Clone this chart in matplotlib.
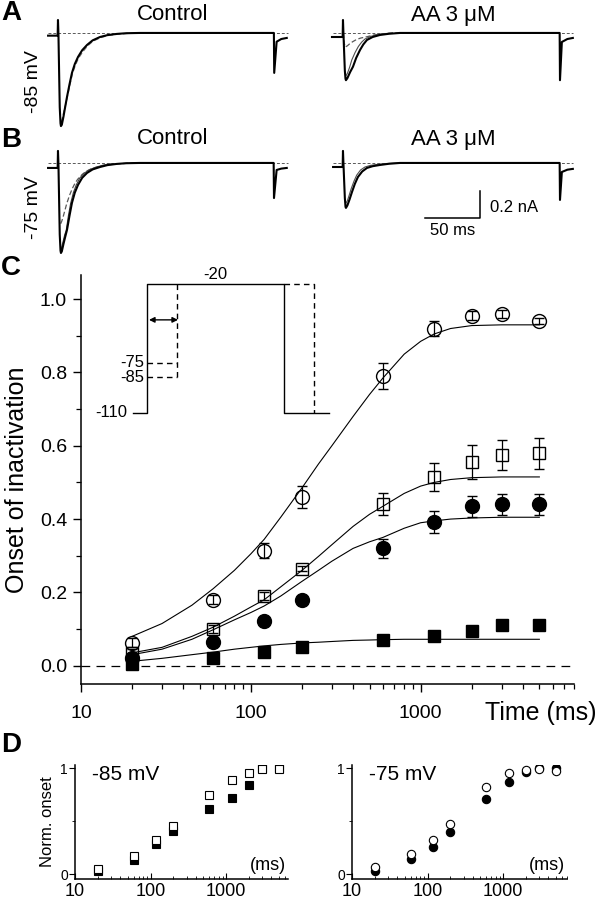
import numpy as np
import matplotlib.pyplot as plt
from matplotlib.ticker import NullFormatter

plt.rcParams['font.family'] = ['Liberation Sans', 'DejaVu Sans']

W, H = 602, 899

# ---- panel A / B current traces (ms, nA) ----
a_ctl_t = [-9, -0.3, 0, 0.4, 1.6, 2.3, 2.7, 3.5, 5, 6.5, 8.2, 10.5, 12.7, 15.3, 18.2, 22, 26.4, 31.5, 38.2, 45, 53.6, 62, 74.5,
           196.3, 196.6, 198.8, 203, 208]
a_ctl_i = [-0.02, -0.02, 0.096, 0.0, -0.55, -0.67, -0.69, -0.68, -0.62, -0.55, -0.474, -0.38, -0.296, -0.23, -0.178, -0.128, -0.089, -0.055, -0.03, -0.016, -0.007, -0.002, 0,
           0, -0.296, -0.065, -0.045, -0.037]
a_ctl_dash_t = [2.9, 4, 5.4, 7, 8.6, 11, 13.2, 16, 18.8, 23, 27, 32, 39, 46, 55, 64, 76]
a_ctl_dash_i = [-0.66, -0.63, -0.58, -0.53, -0.47, -0.38, -0.3, -0.235, -0.185, -0.135, -0.095, -0.06, -0.034, -0.018, -0.009, -0.003, 0]

a_aa_t = [-10, -0.3, 0, 0.4, 1.7, 2.3, 2.7, 4, 6.5, 9.1, 12, 15.5, 18.5, 21.8, 27, 33.6, 42, 51.8,
          197, 197.3, 199, 204, 209]
a_aa_i = [-0.03, -0.03, 0.096, 0.0, -0.28, -0.34, -0.35, -0.335, -0.29, -0.25, -0.185, -0.126, -0.085, -0.052, -0.03, -0.015, -0.006, 0,
          0, -0.35, -0.067, -0.045, -0.037]
a_aa_thin_t = [2.5, 4, 6, 8, 11, 14, 17, 20, 25, 30, 37, 45]
a_aa_thin_i = [-0.32, -0.3, -0.255, -0.2, -0.145, -0.1, -0.068, -0.045, -0.026, -0.015, -0.006, 0]
a_aa_dash_t = [0.3, 1, 2, 4, 6.4, 9, 12, 16, 21.8, 27, 33.6, 41, 50]
a_aa_dash_i = [0, -0.07, -0.105, -0.095, -0.078, -0.064, -0.05, -0.038, -0.028, -0.017, -0.008, -0.003, 0]

b_ctl_t = [-9, -0.3, 0, 0.4, 1.6, 2.3, 2.7, 3.5, 5, 6.5, 8.2, 10.5, 12.7, 15.3, 18.2, 22, 26.4, 31.5, 38.2, 45, 53.6, 62, 74.5,
           196.1, 196.4, 198.8, 203, 208]
b_ctl_i = [-0.037, -0.037, 0.089, 0.0, -0.53, -0.65, -0.667, -0.655, -0.6, -0.55, -0.496, -0.39, -0.296, -0.22, -0.163, -0.11, -0.074, -0.048, -0.03, -0.016, -0.007, -0.002, 0,
           0, -0.26, -0.052, -0.042, -0.037]
b_ctl_thin_t = [2.5, 3.5, 5, 6.2, 7.5, 9.5, 11.5, 14, 16.5, 20, 24, 29, 35, 42, 50]
b_ctl_thin_i = [-0.64, -0.62, -0.57, -0.53, -0.5, -0.39, -0.3, -0.22, -0.165, -0.11, -0.075, -0.048, -0.03, -0.014, -0.005]
b_ctl_dash_t = [2.5, 3.5, 5, 6.5, 8, 10.5, 13, 15.5, 18, 22, 26, 32, 38, 45, 54, 64, 75]
b_ctl_dash_i = [-0.45, -0.43, -0.39, -0.345, -0.3, -0.24, -0.19, -0.15, -0.12, -0.085, -0.06, -0.038, -0.025, -0.014, -0.007, -0.002, 0]

b_aa_t = [-9, -0.3, 0, 0.4, 1.7, 2.3, 2.7, 4, 6, 8.2, 10.8, 13.6, 17.5, 21.8, 27, 33.6, 42, 51.8,
          197, 197.3, 199, 204, 209]
b_aa_i = [-0.03, -0.03, 0.089, 0.0, -0.26, -0.325, -0.333, -0.315, -0.27, -0.215, -0.155, -0.104, -0.063, -0.037, -0.024, -0.015, -0.006, 0,
          0, -0.274, -0.067, -0.05, -0.044]
b_aa_thin_t = [2.5, 4, 5.8, 7.5, 10, 12.5, 16, 20, 25, 32, 40, 50]
b_aa_thin_i = [-0.3, -0.28, -0.235, -0.19, -0.135, -0.09, -0.052, -0.03, -0.018, -0.01, -0.004, 0]

# ---- panel C ----
times = [20, 60, 120, 200, 600, 1200, 2000, 3000, 5000]
open_circ = [0.063, 0.18, 0.314, 0.46, 0.79, 0.92, 0.955, 0.96, 0.94]
open_circ_err = [0.012, 0.012, 0.02, 0.03, 0.035, 0.02, 0.012, 0.01, 0.008]
open_sq = [0.035, 0.10, 0.19, 0.265, 0.44, 0.515, 0.555, 0.575, 0.58]
open_sq_err = [0.01, 0.012, 0.012, 0.008, 0.03, 0.038, 0.046, 0.041, 0.042]
filled_circ = [0.02, 0.065, 0.123, 0.18, 0.32, 0.393, 0.435, 0.44, 0.44]
filled_circ_err = [0.005, 0.01, 0.01, 0.01, 0.027, 0.03, 0.028, 0.029, 0.029]
filled_sq = [0.005, 0.02, 0.038, 0.05, 0.07, 0.08, 0.095, 0.11, 0.11]
filled_sq_err = [0.004, 0.006, 0.006, 0.006, 0.008, 0.008, 0.008, 0.008, 0.008]

fit_t = [20, 30, 45, 60, 80, 100, 120, 150, 200, 250, 300, 400, 500, 600, 800, 1000, 1200, 1500, 2000, 3000, 5000]
fit_open_circ = [0.08, 0.115, 0.165, 0.21, 0.26, 0.305, 0.345, 0.405, 0.485, 0.55, 0.60, 0.68, 0.74, 0.785, 0.85, 0.885, 0.905, 0.92, 0.928, 0.93, 0.93]
fit_open_sq = [0.035, 0.05, 0.08, 0.105, 0.135, 0.16, 0.18, 0.215, 0.26, 0.298, 0.33, 0.38, 0.413, 0.435, 0.47, 0.49, 0.50, 0.508, 0.513, 0.515, 0.515]
fit_filled_circ = [0.03, 0.045, 0.072, 0.098, 0.125, 0.145, 0.163, 0.19, 0.23, 0.26, 0.285, 0.32, 0.338, 0.35, 0.375, 0.39, 0.395, 0.40, 0.403, 0.405, 0.405]
fit_filled_sq = [0.012, 0.02, 0.03, 0.037, 0.045, 0.05, 0.054, 0.058, 0.062, 0.064, 0.066, 0.069, 0.07, 0.071, 0.072, 0.072, 0.072, 0.072, 0.072, 0.072, 0.072]

# protocol inset (arbitrary time, mV)
v_hold, v_test = -110, -20
v_pre = [-75, -85]

# ---- panel D (normalised) ----
norm_open_sq = [0.05, 0.17, 0.32, 0.45, 0.75, 0.89, 0.95, 0.99, 0.99]
norm_filled_sq = [0.03, 0.13, 0.28, 0.41, 0.61, 0.72, 0.84, 1.0, 1.0]
norm_open_circ = [0.066, 0.19, 0.32, 0.47, 0.82, 0.95, 0.98, 0.99, 0.97]
norm_filled_circ = [0.03, 0.14, 0.26, 0.40, 0.71, 0.87, 0.96, 1.0, 1.0]


def px_axes(x0, y0, x1, y1):
    # rectangle given in pixel coords (top-left origin)
    return fig.add_axes([x0 / W, 1 - y1 / H, (x1 - x0) / W, (y1 - y0) / H])


fig = plt.figure(figsize=(W / 100, H / 100), dpi=100)

# ---------- traces ----------
def trace_axes(x0, y0):
    ax = px_axes(x0, y0, x0 + 250, y0 + 125)
    ax.set_xlim(-11.8, 215.5)
    ax.set_ylim(-0.756, 0.17)
    ax.axis('off')
    ax.plot([-9, 209], [0, 0], color='0.35', lw=0.7, ls=(0, (3, 2)))
    return ax

ax = trace_axes(45, 10)
ax.plot(a_ctl_dash_t, a_ctl_dash_i, color='0.45', lw=0.9, ls=(0, (4, 2)))
ax.plot(a_ctl_t, a_ctl_i, color='k', lw=1.5)
ax = trace_axes(330, 10)
ax.plot(a_aa_dash_t, a_aa_dash_i, color='0.35', lw=0.9, ls=(0, (4, 2)))
ax.plot(a_aa_thin_t, a_aa_thin_i, color='0.3', lw=0.8)
ax.plot(a_aa_t, a_aa_i, color='k', lw=1.5)
ax = trace_axes(45, 140)
ax.plot(b_ctl_dash_t, b_ctl_dash_i, color='0.35', lw=0.9, ls=(0, (4, 2)))
ax.plot(b_ctl_thin_t, b_ctl_thin_i, color='0.25', lw=0.8)
ax.plot(b_ctl_t, b_ctl_i, color='k', lw=1.5)
ax = trace_axes(330, 140)
ax.plot(b_aa_thin_t, b_aa_thin_i, color='0.3', lw=0.8)
ax.plot(b_aa_t, b_aa_i, color='k', lw=1.5)
# scale bar 50 ms / 0.2 nA
ax.plot([74.5, 124.5, 124.5], [-0.407, -0.407, -0.207], color='k', lw=1.1, clip_on=False)
ax.text(133.6, -0.333, '0.2 nA', fontsize=12, va='center', ha='left')
ax.text(100, -0.504, '50 ms', fontsize=12, va='center', ha='center')

fig.text(173 / W, 1 - 15 / H, 'Control', fontsize=16, ha='center', va='center')
fig.text(453 / W, 1 - 15 / H, 'AA 3 μM', fontsize=16, ha='center', va='center')
fig.text(173 / W, 1 - 139 / H, 'Control', fontsize=16, ha='center', va='center')
fig.text(453 / W, 1 - 139 / H, 'AA 3 μM', fontsize=16, ha='center', va='center')
fig.text(34 / W, 1 - 82 / H, '-85 mV', fontsize=14, rotation=90, ha='center', va='center')
fig.text(34 / W, 1 - 208 / H, '-75 mV', fontsize=14, rotation=90, ha='center', va='center')

for lab, y in [('A', 13), ('B', 140), ('C', 268), ('D', 745)]:
    fig.text(1 / W, 1 - y / H, lab, fontsize=20, fontweight='bold', ha='left', va='center')

# ---------- panel C ----------
axC = px_axes(81, 275, 574, 684)
axC.set_xscale('log')
axC.set_xlim(10, 8000)
axC.set_ylim(-0.05, 1.066)
for s in ['top', 'right']:
    axC.spines[s].set_visible(False)
for s in ['left', 'bottom']:
    axC.spines[s].set_linewidth(1.1)
axC.axhline(0, color='k', lw=0.9, ls=(0, (7, 5)))

axC.plot(fit_t, fit_open_circ, color='k', lw=0.8, zorder=3)
axC.plot(fit_t, fit_open_sq, color='k', lw=0.8, zorder=3)
axC.plot(fit_t, fit_filled_circ, color='k', lw=0.8, zorder=3)
axC.plot(fit_t, fit_filled_sq, color='k', lw=0.8, zorder=3)

eb = dict(ecolor='k', elinewidth=0.9, capsize=3.5, capthick=0.9, mec='k', mew=1.0, zorder=4)
axC.errorbar(times, filled_sq, yerr=filled_sq_err, fmt='s', ms=9, mfc='k', **eb)
axC.errorbar(times, filled_circ, yerr=filled_circ_err, fmt='o', ms=10, mfc='k', **eb)
axC.errorbar(times, open_sq, yerr=open_sq_err, fmt='s', ms=9, mfc='none', **eb)
axC.errorbar(times, open_circ, yerr=open_circ_err, fmt='o', ms=10, mfc='none', **eb)

axC.set_yticks([0, 0.2, 0.4, 0.6, 0.8, 1.0], ['0.0', '0.2', '0.4', '0.6', '0.8', '1.0'])
axC.set_yticks([0.1, 0.3, 0.5, 0.7, 0.9], minor=True)
axC.set_xticks([10, 100, 1000], ['10', '100', '1000'])
axC.xaxis.set_minor_formatter(NullFormatter())
axC.tick_params(which='major', direction='out', length=6, width=1.0, labelsize=14, pad=4)
axC.tick_params(axis='x', which='major', pad=9)
axC.tick_params(which='minor', direction='out', length=3.5, width=0.9)
axC.set_ylabel('Onset of inactivation', fontsize=18, labelpad=8)
fig.text(485 / W, 1 - 720 / H, 'Time (ms)', fontsize=18, ha='left', va='baseline')

# protocol inset
axI = px_axes(100, 265, 340, 420)
axI.set_xlim(100, 340)
axI.set_ylim(-114.9, -6.7)
axI.axis('off')
axI.plot([133, 147, 147, 284, 284, 329], [v_hold, v_hold, v_test, v_test, v_hold, v_hold], color='k', lw=1.0)
axI.plot([284, 314, 314], [v_test, v_test, v_hold], color='k', lw=1.0, ls=(0, (4, 3)))
axI.plot([177, 177], [v_test, min(v_pre)], color='k', lw=1.0, ls=(0, (4, 3)))
for v in v_pre:
    axI.plot([147, 177], [v, v], color='k', lw=1.0, ls=(0, (4, 3)))
    axI.text(144, v, str(v), fontsize=12, ha='right', va='center')
axI.annotate('', xy=(149, -45), xytext=(178, -45),
             arrowprops=dict(arrowstyle='<|-|>', color='k', lw=1.0, mutation_scale=8, shrinkA=0, shrinkB=0))
axI.text(127, v_hold, str(v_hold), fontsize=12, ha='right', va='center')
axI.text(215, -13, str(v_test), fontsize=12, ha='center', va='center')

# ---------- panel D ----------
def norm_axes(x0, x1, label):
    ax = px_axes(x0, 765, x1, 879)
    ax.set_xscale('log')
    ax.set_xlim(10, 10 ** (1 + (x1 - x0) / 75.5))
    ax.set_ylim(-0.047, 1.03)
    for s in ['top', 'right']:
        ax.spines[s].set_visible(False)
    for s in ['left', 'bottom']:
        ax.spines[s].set_linewidth(1.1)
    ax.set_yticks([0, 1], ['0', '1'])
    ax.set_yticks([0.5], minor=True)
    ax.set_xticks([10, 100, 1000], ['10', '100', '1000'])
    ax.xaxis.set_minor_formatter(NullFormatter())
    ax.tick_params(axis='y', which='major', direction='out', length=4, labelsize=10, pad=1)
    ax.tick_params(axis='y', which='minor', direction='out', length=2.5)
    ax.tick_params(axis='x', which='major', direction='in', length=4, labelsize=13, pad=3)
    ax.tick_params(axis='x', which='minor', direction='in', length=2)
    ax.text(0.08, 0.92, label, transform=ax.transAxes, fontsize=15, ha='left', va='center')
    ax.text(0.99, 0.12, '(ms)', transform=ax.transAxes, fontsize=13, ha='right', va='center')
    return ax

axD1 = norm_axes(75, 288, '-85 mV')
axD1.plot(times, norm_filled_sq, 's', ms=5.5, mfc='k', mec='k', mew=0.8, ls='none')
axD1.plot(times, norm_open_sq, 's', ms=5.5, mfc='white', mec='k', mew=0.8, ls='none')
axD1.set_ylabel('Norm. onset', fontsize=12, labelpad=4)

axD2 = norm_axes(352, 567, '-75 mV')
axD2.plot(times, norm_filled_circ, 'o', ms=6, mfc='k', mec='k', mew=0.8, ls='none')
axD2.plot(times, norm_open_circ, 'o', ms=6, mfc='white', mec='k', mew=0.8, ls='none')

fig.savefig('out.png', dpi=100)
